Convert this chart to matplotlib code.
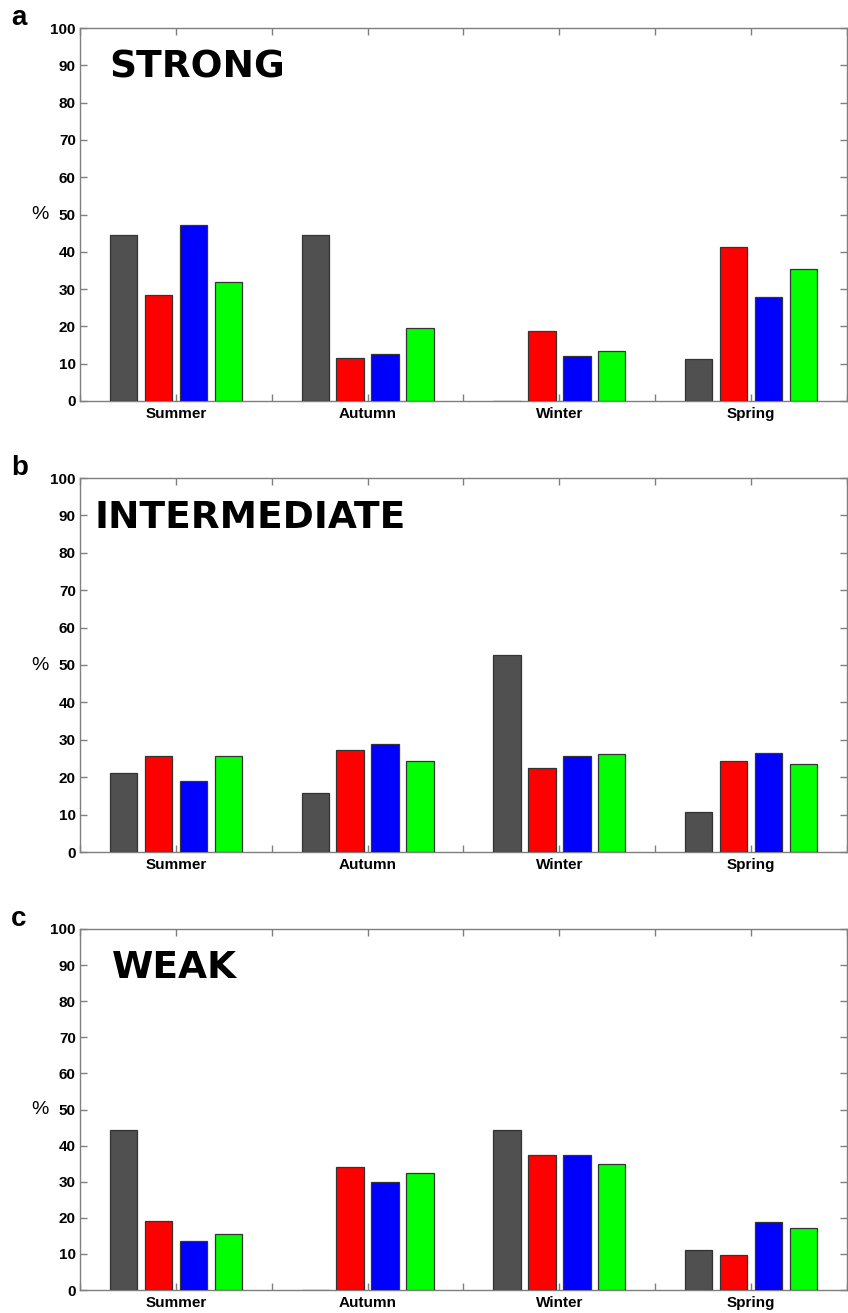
import numpy as np
import matplotlib
matplotlib.use("Agg")
import matplotlib.pyplot as plt

# ── Data ──────────────────────────────────────────────────────────────────────
seasons = ["Summer", "Autumn", "Winter", "Spring"]
panel_letters = ["a", "b", "c"]
panel_titles = ["STRONG", "INTERMEDIATE", "WEAK"]

# each row: [gray, red, blue, green] per season
strong = [[44.5, 28.3, 47.2, 32.0],
          [44.5, 11.5, 12.7, 19.7],
          [0.0, 18.8, 12.1, 13.3],
          [11.2, 41.4, 28.0, 35.3]]
intermediate = [[21.0, 25.8, 19.0, 25.7],
                [15.8, 27.4, 29.0, 24.3],
                [52.8, 22.4, 25.7, 26.3],
                [10.7, 24.3, 26.5, 23.5]]
weak = [[44.4, 19.0, 13.6, 15.5],
        [0.0, 34.2, 30.0, 32.4],
        [44.4, 37.4, 37.4, 34.8],
        [11.1, 9.6, 18.9, 17.3]]

bar_colors = ["#505050", "#ff0000", "#0000ff", "#00ff00"]
offsets = [-0.273, -0.091, 0.091, 0.273]

# ── Figure ────────────────────────────────────────────────────────────────────
W, H = 848, 1313
fig = plt.figure(figsize=(W / 100, H / 100), dpi=100)
plt.rcParams["font.family"] = ["Liberation Sans", "DejaVu Sans"]

# (top, bottom) of each axes in pixels, and title x in axes fraction
boxes = [(28, 401), (478, 852), (929, 1290)]
title_x = [0.038, 0.019, 0.041]
left_px, right_px = 80, 847

x = np.arange(1, len(seasons) + 1)
spine_col = "#7f7f7f"

for data, letter, title, (top, bot), tx in zip(
        [strong, intermediate, weak], panel_letters, panel_titles,
        boxes, title_x):
    ax = fig.add_axes([left_px / W, 1 - bot / H,
                       (right_px - left_px) / W, (bot - top) / H])
    vals = np.array(data)
    for j in range(4):
        ax.bar(x + offsets[j], vals[:, j], width=0.143,
               color=bar_colors[j], edgecolor="#333333", linewidth=0.9,
               zorder=3)

    ax.set_xlim(0.5, 4.5)
    ax.set_ylim(0, 100)
    ax.set_yticks(np.arange(0, 101, 10))
    ax.set_xticks(np.arange(0.5, 4.51, 0.5))
    ax.set_xticklabels(["" if t % 1 else seasons[int(t) - 1]
                        for t in np.arange(0.5, 4.51, 0.5)])
    ax.tick_params(direction="in", top=True, right=True, length=5,
                   width=1, color=spine_col, labelsize=11, pad=3)
    ax.tick_params(axis="x", pad=4)
    for lab in ax.get_xticklabels() + ax.get_yticklabels():
        lab.set_fontweight("bold")
    for sp in ax.spines.values():
        sp.set_color(spine_col)
        sp.set_linewidth(1.0)

    ax.set_ylabel("%", rotation=0, fontsize=14, va="center")
    ax.yaxis.set_label_coords(-0.052, 0.5)

    ax.text(tx, 0.893, title, transform=ax.transAxes, fontsize=27,
            fontweight="heavy", family="DejaVu Sans", va="center", ha="left")
    fig.text(11 / W, 1 - (top - 10) / H, letter, fontsize=20,
             fontweight="bold", va="center", ha="left")

fig.savefig("out.png", dpi=100)
